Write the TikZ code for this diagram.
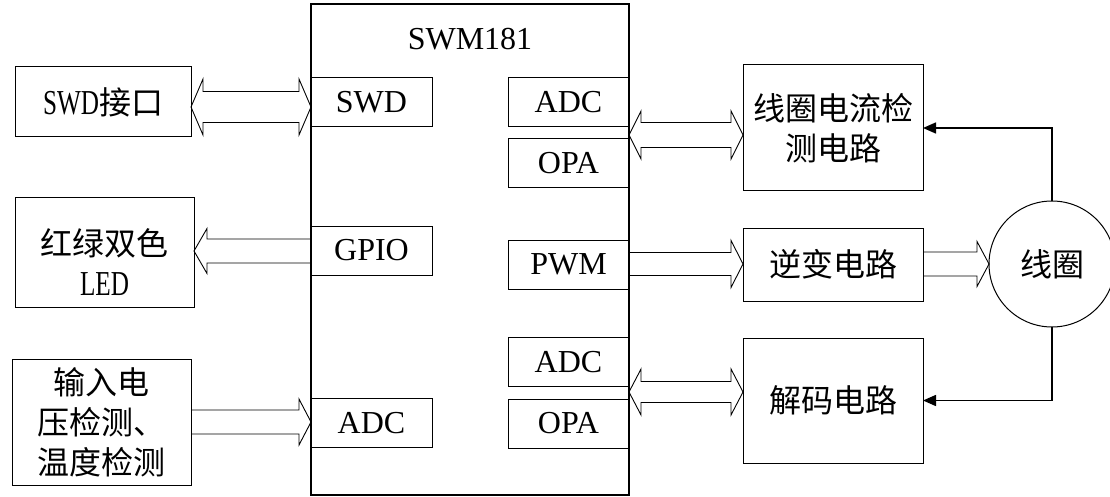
\documentclass[tikz,border=0pt]{standalone}
\usepackage{fontspec}
\setmainfont{Liberation Serif}
\newfontfamily\cjk{Noto Sans CJK SC}
\newfontfamily\narrowlat[FakeStretch=0.72]{Liberation Serif}
\newcommand\nlat[1]{{\fontsize{35}{40}\selectfont\narrowlat #1}}
\usetikzlibrary{calc,arrows.meta}
% fat arrows: #1 left anchor, #2 right anchor, #3 centre y, #4 shaft half width, #5 head half width
\newcommand\fatright[5]{%
  \draw[fat] let \p1=(#1), \p2=(#2) in
    (\x1,#3-#4) -- (\x2-12pt,#3-#4) -- (\x2-12pt,#3-#5) -- (\x2,#3)
    -- (\x2-12pt,#3+#5) -- (\x2-12pt,#3+#4) -- (\x1,#3+#4);}
\newcommand\fatleft[5]{%
  \draw[fat] let \p1=(#1), \p2=(#2) in
    (\x2,#3-#4) -- (\x1+13pt,#3-#4) -- (\x1+13pt,#3-#5) -- (\x1,#3)
    -- (\x1+13pt,#3+#5) -- (\x1+13pt,#3+#4) -- (\x2,#3+#4);}
\newcommand\fatdouble[5]{%
  \draw[fat] let \p1=(#1), \p2=(#2) in
    (\x1,#3) -- (\x1+12pt,#3-#5) -- (\x1+12pt,#3-#4) -- (\x2-12pt,#3-#4)
    -- (\x2-12pt,#3-#5) -- (\x2,#3) -- (\x2-12pt,#3+#5) -- (\x2-12pt,#3+#4)
    -- (\x1+12pt,#3+#4) -- (\x1+12pt,#3+#5) -- cycle;}
\begin{document}
\begin{tikzpicture}[x=1pt,y=-1pt,
  box/.style={draw, line width=1pt, inner sep=0pt, outer sep=0pt, align=center},
  sub/.style={box, minimum width=121pt, minimum height=49pt, font=\fontsize{32}{38}\selectfont},
  lab/.style={font=\fontsize{32}{38}\selectfont},
  cj/.style={font=\fontsize{32}{40}\selectfont\cjk, align=center},
  fat/.style={line width=0.9pt, line join=miter},
  fb/.style={line width=1.6pt, -{Triangle[length=13pt,width=11pt]}}]
\useasboundingbox (0,0) rectangle (1110,497);

% MCU
\node[box, line width=1.8pt, minimum width=318pt, minimum height=491pt] (mcu) at (470,249.5) {};
\node[lab] (title) at (470,39) {SWM181};
\node[sub] (swd)  at (371.5,102.5) {SWD};
\node[sub] (gpio) at (371.5,250.5) {GPIO};
\node[sub] (adcl) at (371.5,423)   {ADC};
\node[sub] (adc1) at (568.5,102.5) {ADC};
\node[sub] (opa1) at (568.5,163.5) {OPA};
\node[sub] (pwm)  at (568.5,264.5) {PWM};
\node[sub] (adc2) at (568.5,362)   {ADC};
\node[sub] (opa2) at (568.5,423.5) {OPA};

% left peripherals
\node[box, minimum width=176pt, minimum height=70pt] (swdif) at (103,102) {};
\node[cj] (swdiftext) at (swdif) {\nlat{SWD}接口};
\node[box, minimum width=179pt, minimum height=110pt] (led) at (104.5,252) {};
\node[cj] (ledtext) at ($(led)+(0,10)$) {红绿双色\\\nlat{LED}};
\node[box, minimum width=179pt, minimum height=126pt] (inp) at (101.5,422) {};
\node[cj] (inptext) at (inp) {输入电\\压检测、\\温度检测};

% right peripherals
\node[box, cj, minimum width=180pt, minimum height=126pt] (sense) at (833,128) {线圈电流检\\测电路};
\node[box, cj, minimum width=180pt, minimum height=73pt] (inv) at (833,264.5) {逆变电路};
\node[box, cj, minimum width=180pt, minimum height=125pt] (dec) at (833,400.5) {解码电路};
\node[draw, circle, line width=1pt, minimum size=126pt, inner sep=0pt, outer sep=0pt, cj] (coil) at (1052,264) {线圈};

% fat arrows
\fatdouble{swdif.east}{mcu.west}{107}{15.5}{28}
\fatleft{led.east}{mcu.west}{251}{12}{22.5}
\fatright{inp.east}{mcu.west}{422}{12}{23}
\fatdouble{mcu.east}{sense.west}{135}{12.5}{24}
\fatright{mcu.east}{inv.west}{264}{11.5}{23.5}
\fatright{inv.east}{coil.west}{264}{12}{22.5}
\fatdouble{mcu.east}{dec.west}{392}{10.5}{23}

% feedback lines
\draw[fb] (coil.north) |- (sense.east);
\draw[fb] (coil.south) |- (dec.east);
\end{tikzpicture}
\end{document}
